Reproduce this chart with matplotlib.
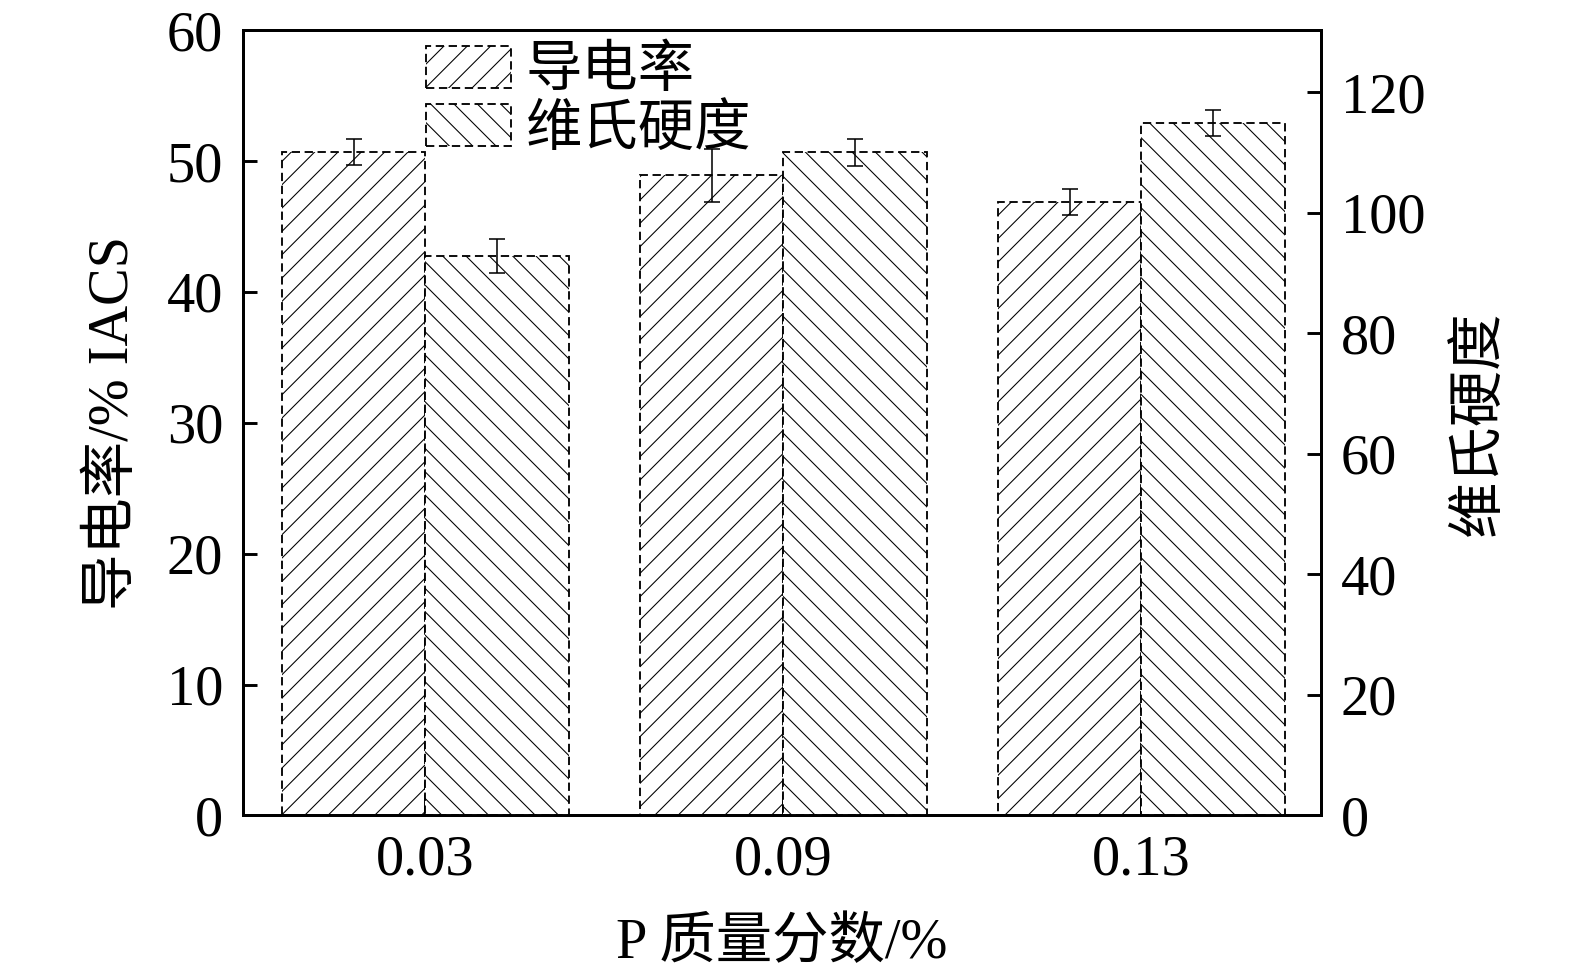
import numpy as np
import matplotlib
matplotlib.use('Agg')
import matplotlib.pyplot as plt

plt.rcParams['font.family'] = ['Liberation Serif', 'Noto Sans CJK SC']
plt.rcParams['hatch.linewidth'] = 0.55
plt.rcParams['axes.unicode_minus'] = False

# data
categories = ['0.03', '0.09', '0.13']
conductivity = [50.7, 48.9, 46.9]
conductivity_err = [1.0, 2.0, 1.0]
hardness = [92.8, 110.0, 114.9]
hardness_err = [2.8, 2.2, 2.2]

fig = plt.figure(figsize=(11.25, 6.95), dpi=140)
ax1 = fig.add_axes([0.154, 0.162, 0.685, 0.807])
ax2 = ax1.twinx()

x = np.arange(len(categories))
w = 0.4
dash = (0, (4.5, 2.5))

b1 = ax1.bar(x - w/2, conductivity, w, facecolor='white', edgecolor='black',
             hatch='//', linewidth=0.95, linestyle=dash, label='导电率')
ax1.errorbar(x - w/2, conductivity, yerr=conductivity_err, fmt='none',
             ecolor='black', elinewidth=0.8, capsize=4, capthick=0.8)
b2 = ax2.bar(x + w/2, hardness, w, facecolor='white', edgecolor='black',
             hatch='\\\\', linewidth=0.95, linestyle=dash, label='维氏硬度')
ax2.errorbar(x + w/2, hardness, yerr=hardness_err, fmt='none',
             ecolor='black', elinewidth=0.8, capsize=4, capthick=0.8)

ax1.set_xlim(-0.511, 2.503)
ax1.set_ylim(0, 60)
ax2.set_ylim(0, 130.3)
ax1.set_xticks(x)
ax1.set_xticklabels(categories)
ax1.set_yticks(np.arange(0, 61, 10))
ax2.set_yticks(np.arange(0, 121, 20))

for ax in (ax1, ax2):
    for s in ax.spines.values():
        s.set_linewidth(1.5)
    ax.tick_params(direction='in', length=7, width=1.5, labelsize=29, pad=10)

ax1.set_xlabel('P 质量分数/%', fontsize=29, labelpad=16)
ax1.set_ylabel('导电率/% IACS', fontsize=29, labelpad=14)
ax2.set_ylabel('维氏硬度', fontsize=29, labelpad=14)

ax2.legend(handles=[b1, b2], loc='upper left', bbox_to_anchor=(0.17, 0.98),
           frameon=False, fontsize=29, handlelength=1.5, handleheight=0.76,
           handletextpad=0.27, labelspacing=0.1, borderpad=0, borderaxespad=0)

fig.savefig('out.png', dpi=140)
